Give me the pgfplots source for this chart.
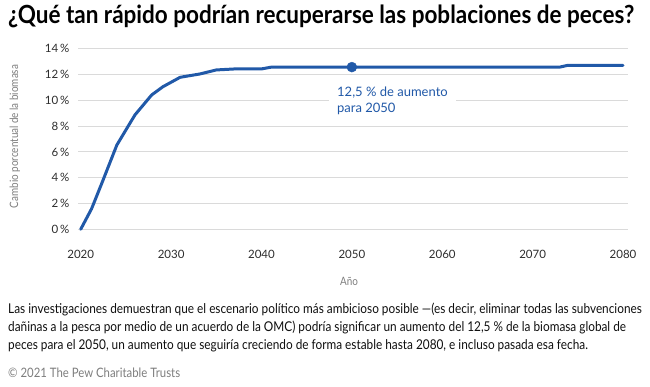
\documentclass[border=0pt]{standalone}
\usepackage{fontspec}
\setmainfont{Lato}
\newfontfamily\condfont[FakeStretch=0.86]{Lato}
\newfontfamily\bodyfont[FakeStretch=0.875]{Lato}
\newfontfamily\titlefont[FakeStretch=0.9]{Lato}
\usepackage{pgfplots}
\pgfplotsset{compat=1.18}
\definecolor{lineblue}{RGB}{33,89,168}
\definecolor{gridgray}{RGB}{218,218,218}
\definecolor{labelgray}{RGB}{125,125,125}
\definecolor{tickdark}{RGB}{45,45,45}
\definecolor{bodytext}{RGB}{15,15,15}
\begin{document}
\begin{tikzpicture}
\path[use as bounding box] (0pt,0pt) rectangle (650pt,386pt);
\begin{axis}[
  at={(78pt,156.7pt)}, anchor=south west,
  scale only axis, width=550pt, height=180.5pt,
  xmin=2019.7, xmax=2080.55, ymin=0, ymax=14,
  axis line style={draw=none}, major tick length=0pt,
  xtick={2020,2030,2040,2050,2060,2070,2080},
  xticklabels={2020,2030,2040,2050,2060,2070,2080},
  ytick={0,2,4,6,8,10,12,14},
  yticklabels={0\,\%,2\,\%,4\,\%,6\,\%,8\,\%,10\,\%,12\,\%,14\,\%},
  ymajorgrids, grid style={gridgray, line width=1.1pt},
  xticklabel style={font=\fontsize{11.5}{13}\selectfont, text=tickdark, yshift=-17pt},
  yticklabel style={font=\fontsize{11.5}{13}\selectfont, text=tickdark, xshift=-5pt},
  clip=false,
]
\addplot[lineblue, line width=3pt, line join=round, line cap=round] coordinates {
 (2020,0) (2021.2,1.59) (2022.3,3.51) (2024.0,6.54) (2026.0,8.87) (2027.85,10.42)
 (2029.1,11.06) (2031.0,11.79) (2033.2,12.05) (2035.0,12.36) (2037.1,12.44)
 (2040.0,12.44) (2041.1,12.58) (2050,12.58) (2073.0,12.58) (2073.9,12.72) (2080,12.72)
};
\addplot[only marks, mark=*, mark size=5pt, lineblue] coordinates {(2050,12.58)};
\node[fill=white, inner xsep=8pt, inner ysep=3pt, anchor=north west, align=left,
  text=lineblue, font=\fontsize{13}{16}\selectfont] at (axis cs:2047.47,11.3)
  {12,5 \% de aumento\\para 2050};
\end{axis}
\node[anchor=center, text=labelgray, font=\condfont\fontsize{11.5}{13}\selectfont] at (349pt,105pt) {Año};
\node[anchor=center, rotate=90, text=labelgray, font=\condfont\fontsize{11.5}{13}\selectfont] at (15pt,249.5pt) {Cambio porcentual de la biomasa};
\node[anchor=base west, inner sep=0pt, font=\titlefont\bfseries\fontsize{25}{28}\selectfont] at (8pt,362pt)
  {¿Qué tan rápido podrían recuperarse las poblaciones de peces?};
\node[anchor=base west, inner sep=0pt, text=bodytext, font=\bodyfont\fontsize{13.5}{15}\selectfont] at (8pt,73pt)
  {Las investigaciones demuestran que el escenario político más ambicioso posible —(es decir, eliminar todas las subvenciones};
\node[anchor=base west, inner sep=0pt, text=bodytext, font=\bodyfont\fontsize{13.5}{15}\selectfont] at (8pt,55pt)
  {dañinas a la pesca por medio de un acuerdo de la OMC) podría significar un aumento del 12,5 \% de la biomasa global de};
\node[anchor=base west, inner sep=0pt, text=bodytext, font=\bodyfont\fontsize{13.5}{15}\selectfont] at (8pt,37pt)
  {peces para el 2050, un aumento que seguiría creciendo de forma estable hasta 2080, e incluso pasada esa fecha.};
\node[anchor=base west, inner sep=0pt, text=labelgray, font=\bodyfont\fontsize{13}{15}\selectfont] at (8pt,9pt)
  {© 2021 The Pew Charitable Trusts};
\end{tikzpicture}
\end{document}
